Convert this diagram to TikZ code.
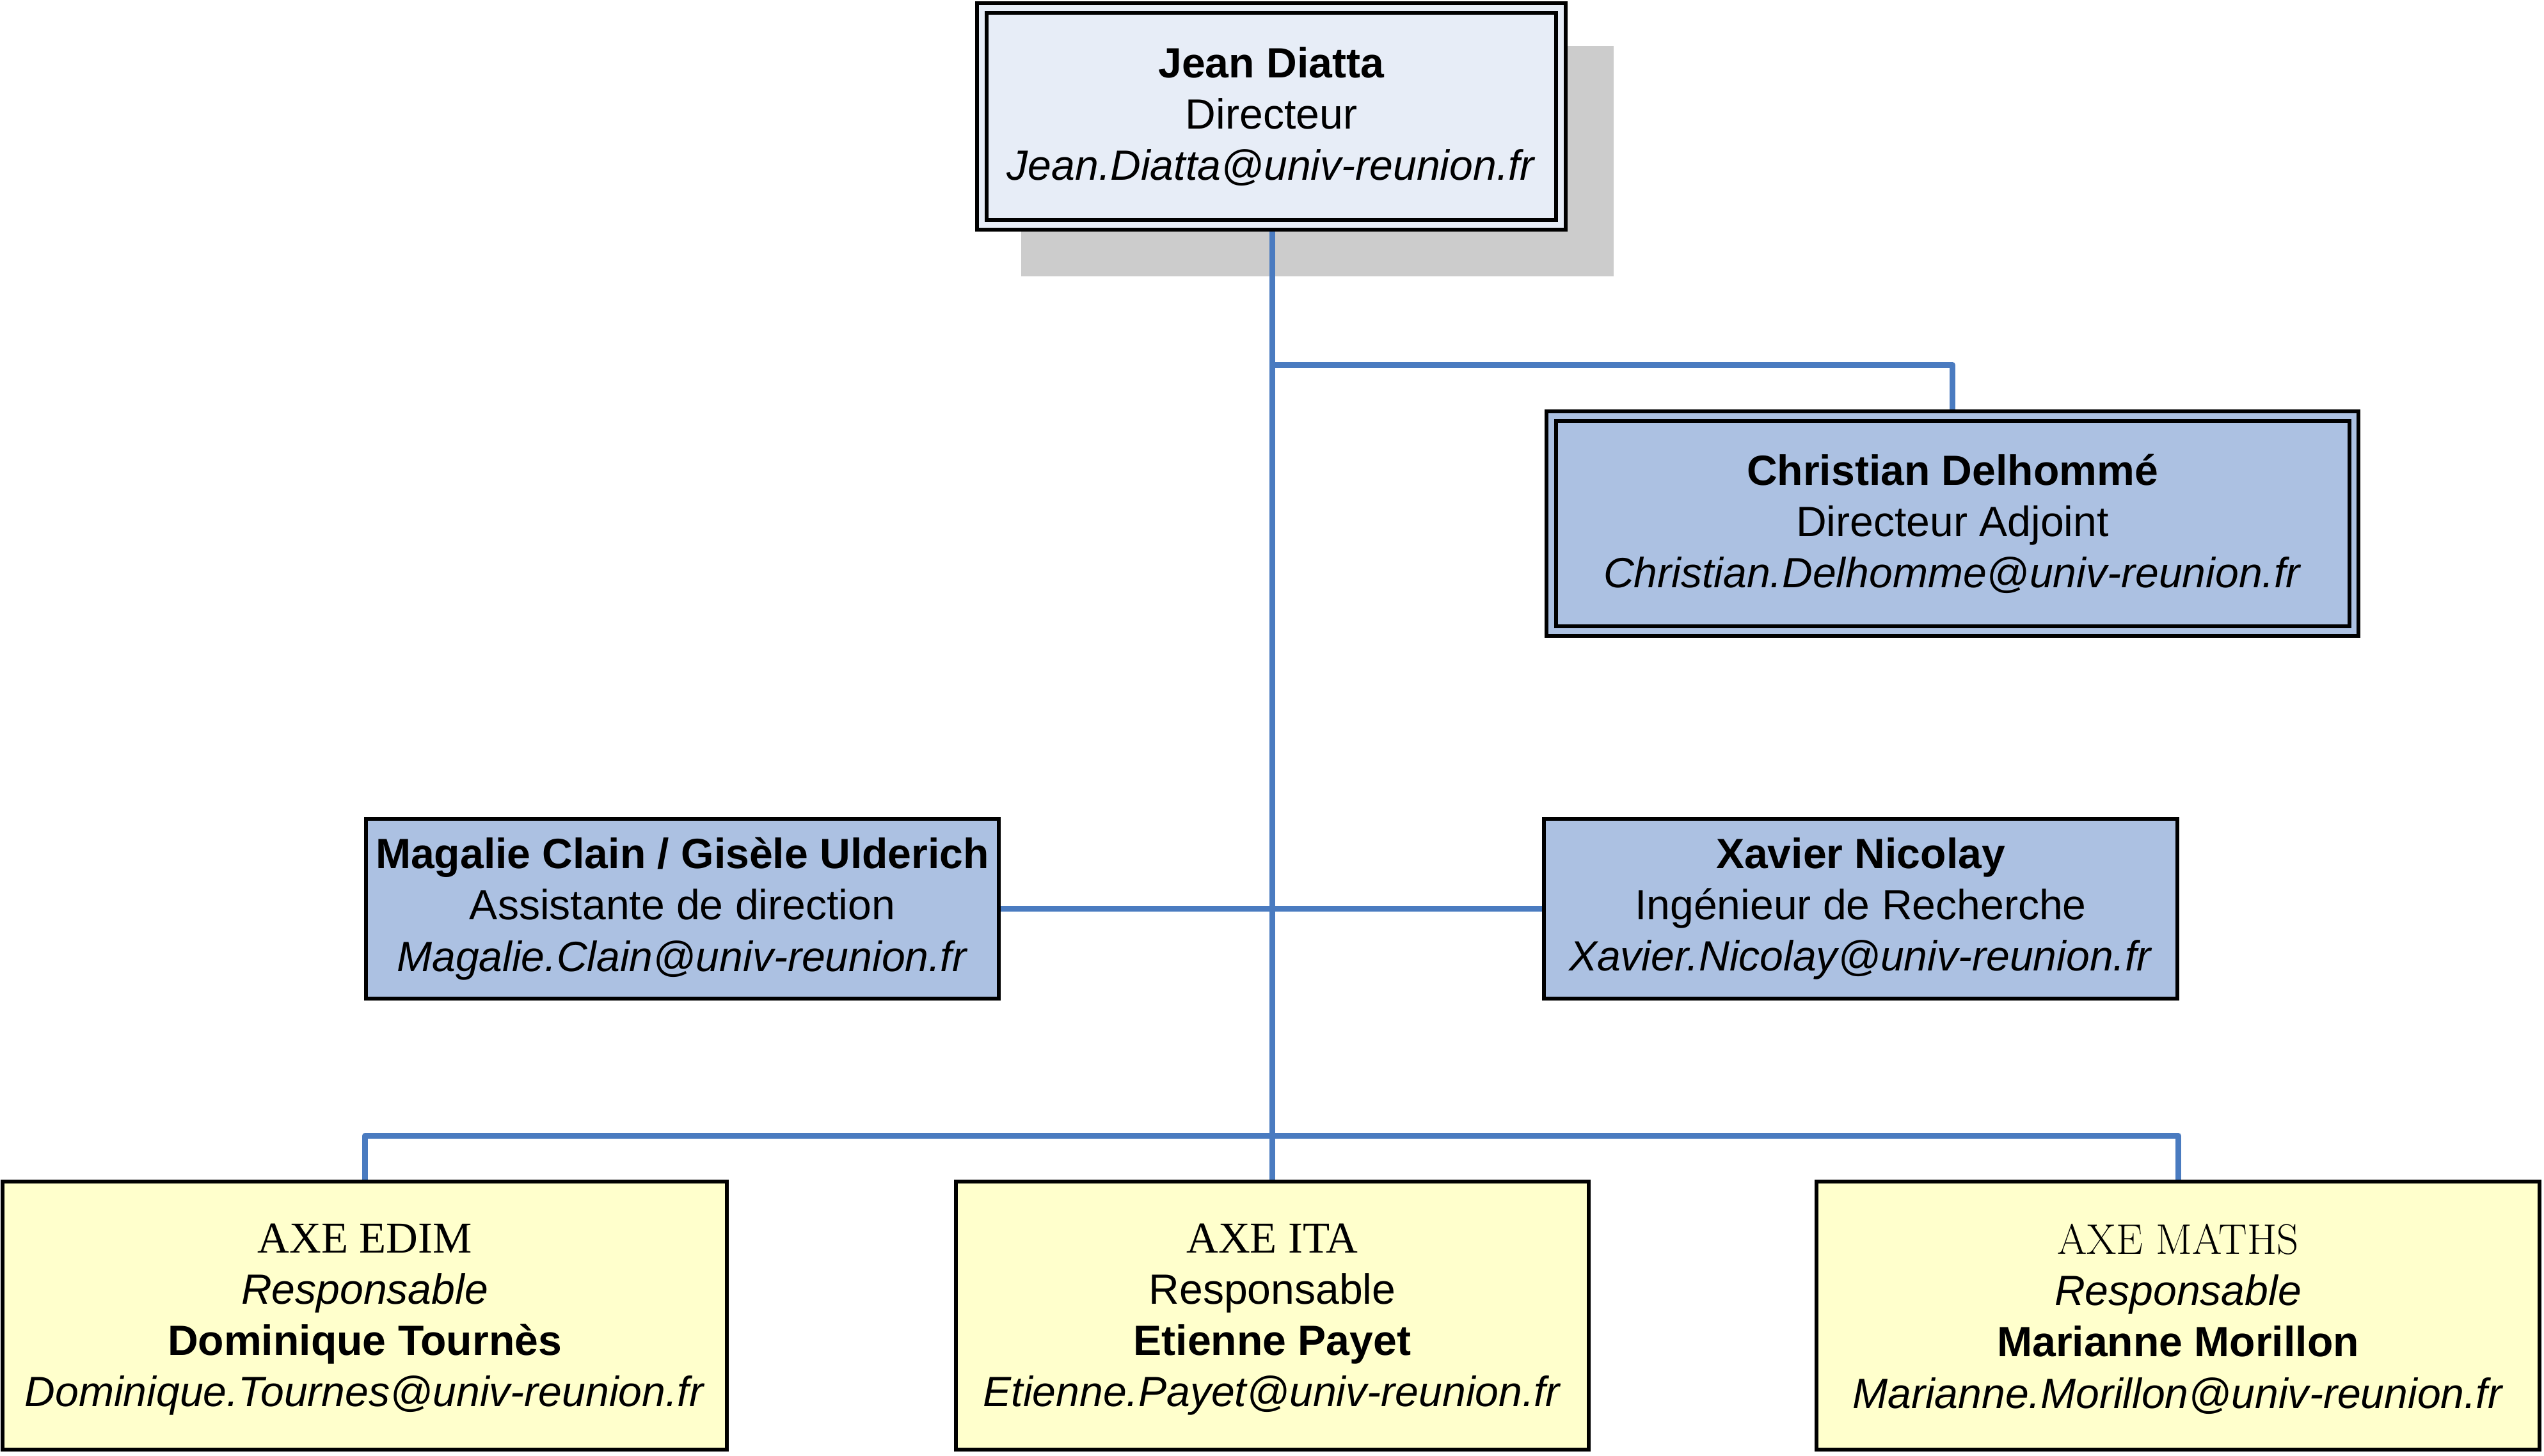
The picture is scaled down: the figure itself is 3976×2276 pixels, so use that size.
\documentclass[tikz,border=0pt]{standalone}
\usepackage{fontspec}
\newfontfamily\arialf{Liberation Sans}
\newfontfamily\timesf{Liberation Serif}
\usetikzlibrary{backgrounds}
\definecolor{topfill}{HTML}{E7EDF7}
\definecolor{bluefill}{HTML}{ACC1E2}
\definecolor{yellowfill}{HTML}{FFFFCC}
\definecolor{shadowgray}{HTML}{CCCCCC}
\definecolor{connblue}{HTML}{4A7BC0}
\newcommand{\axelift}{\rule{0pt}{16.4pt}}
\begin{document}
\begin{tikzpicture}[x=0.01cm,y=-0.01cm,
  box/.style={draw=black, line width=1.7pt, inner sep=0pt, align=center,
    font=\arialf\fontsize{18.8}{22.8}\selectfont},
  sbox/.style={box, fill=#1},
  dbox/.style={box, fill=#1, double=#1, double distance=2.5pt},
  axebox/.style={box, fill=yellowfill, minimum height=4.18cm},
  conn/.style={draw=connblue, line width=2.56pt, line cap=round, line join=round}]
\useasboundingbox (0,0) rectangle (3976,2276);

% boxes
\node[dbox=topfill, minimum width=9.05cm, minimum height=3.39cm] (top) at (1987,182)
  {\textbf{Jean Diatta}\\Directeur\\\textit{Jean.Diatta@univ-reunion.fr}};
\node[dbox=bluefill, minimum width=12.54cm, minimum height=3.36cm] (chris) at (3051.5,818.5)
  {\textbf{Christian Delhommé}\\Directeur Adjoint\\\textit{Christian.Delhomme@univ-reunion.fr}};
\node[sbox=bluefill, minimum width=9.88cm, minimum height=2.80cm] (mag) at (1066.5,1420.5)
  {\textbf{Magalie Clain / Gisèle Ulderich}\\Assistante de direction\\\textit{Magalie.Clain@univ-reunion.fr}};
\node[sbox=bluefill, minimum width=9.89cm, minimum height=2.80cm] (xav) at (2908,1420.5)
  {\textbf{Xavier Nicolay}\\Ingénieur de Recherche\\\textit{Xavier.Nicolay@univ-reunion.fr}};
\node[axebox, minimum width=11.31cm] (edim) at (570,2056.5)
  {\axelift{\timesf\fontsize{19.6}{22.8}\selectfont AXE EDIM}\\\textit{Responsable}\\\textbf{Dominique Tournès}\\\textit{Dominique.Tournes@univ-reunion.fr}};
\node[axebox, minimum width=9.88cm] (ita) at (1988.5,2056.5)
  {\axelift{\timesf\fontsize{19.6}{22.8}\selectfont AXE ITA}\\Responsable\\\textbf{Etienne Payet}\\\textit{Etienne.Payet@univ-reunion.fr}};
\node[axebox, minimum width=11.29cm] (maths) at (3404,2056.5)
  {\axelift{\rmfamily\fontsize{19}{22.8}\selectfont AXE MATHS}\\\textit{Responsable}\\\textbf{Marianne Morillon}\\\textit{Marianne.Morillon@univ-reunion.fr}};

\coordinate (j1) at (1988.5,570);
\coordinate (j2) at (1988.5,1775);

\begin{scope}[on background layer]
  \fill[shadowgray] (1596,72) rectangle (2522,432);
  \draw[conn] (top.south -| ita.north) -- (ita.north);
  \draw[conn] (j1) -| (chris.north);
  \draw[conn] (mag.east) -- (xav.west);
  \draw[conn] (edim.north) |- (j2) -| (maths.north);
\end{scope}
\end{tikzpicture}
\end{document}
